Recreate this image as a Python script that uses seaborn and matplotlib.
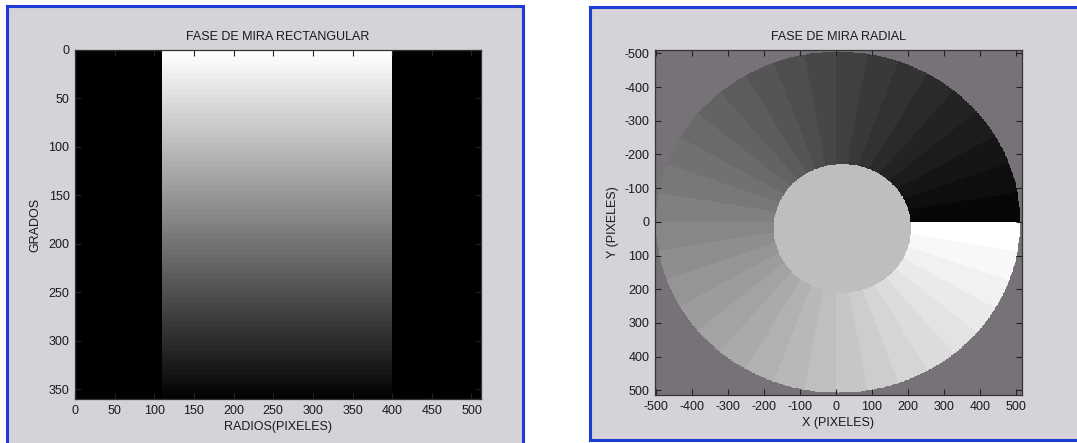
import numpy as np
import pandas as pd
import matplotlib
matplotlib.use("Agg")
import matplotlib.pyplot as plt
import seaborn as sns
from matplotlib.colors import ListedColormap
from matplotlib.patches import Rectangle

# ---------------- data: rectangular phase map ----------------
radios_lim = [0, 512]            # x extent (pixels)
grados_lim = [0, 360]            # y extent (degrees)
franja_radios = [110, 400]       # radii where the phase ramp is shown
paso_fase_rect = 5               # degrees per gray band
radios_ticks = [0, 50, 100, 150, 200, 250, 300, 350, 400, 450, 500]
grados_ticks = [0, 50, 100, 150, 200, 250, 300, 350]

# ---------------- data: radial phase map ----------------
x_lim = [-503, 518]
y_lim = [-510, 515]
centro_ext = [6, 1]
radio_ext = 506
centro_int = [18, 19]
radio_int = 191
paso_fase_rad = 10               # degrees per sector
xy_ticks = [-500, -400, -300, -200, -100, 0, 100, 200, 300, 400, 500]
color_fondo = "#767278"
color_centro = "#bebebe"
paso_celda = 2

W, H = 1077, 443
FONT = ["Liberation Sans Narrow", "Liberation Sans", "DejaVu Sans"]
plt.rcParams["font.family"] = FONT
plt.rcParams["font.size"] = 9
TXT = "#1a1a1a"

fig = plt.figure(figsize=(W / 100, H / 100), dpi=100, facecolor="white")

def px_rect(x0, y0, x1, y1):
    return (x0 / W, 1 - y1 / H, (x1 - x0) / W, (y1 - y0) / H)

# window frames
for (x0, y0, x1, y1) in [(7, 6, 523, 452), (590, 7, 1090, 440)]:
    l, b, w, h = px_rect(x0, y0, x1, y1)
    fig.add_artist(Rectangle((l, b), w, h, transform=fig.transFigure,
                             facecolor="#d5d2d8", edgecolor="#1c3cd6",
                             lw=2.2, zorder=0))

def style_axes(ax):
    for s in ax.spines.values():
        s.set_visible(True)
        s.set_color("#333333")
        s.set_linewidth(0.9)
    ax.tick_params(direction="in", top=True, right=True, length=4,
                   width=0.8, color="#222222", labelcolor=TXT,
                   labelsize=9, pad=4)

# ---------------- left: rectangular ----------------
ax1 = fig.add_axes(px_rect(75, 50, 481, 399))
filas = np.arange(grados_lim[0], grados_lim[1])
cols = np.arange(radios_lim[0], radios_lim[1])
nb = 360 / paso_fase_rect
banda = np.floor((filas + 0.5) / paso_fase_rect)
nivel = 1 - banda / nb
dentro = (cols + 0.5 >= franja_radios[0]) & (cols + 0.5 < franja_radios[1])
img_rect = np.where(dentro[None, :], nivel[:, None], 0.0)
sns.heatmap(pd.DataFrame(img_rect), ax=ax1, cmap="gray", vmin=0, vmax=1,
            cbar=False, xticklabels=False, yticklabels=False)
ax1.set_xlim(radios_lim)
ax1.set_ylim(grados_lim[1], grados_lim[0])
ax1.set_xticks(radios_ticks)
ax1.set_xticklabels([str(v) for v in radios_ticks], rotation=0)
ax1.set_yticks(grados_ticks)
ax1.set_yticklabels([str(v) for v in grados_ticks], rotation=0)
style_axes(ax1)
ax1.set_title("FASE DE MIRA RECTANGULAR", fontsize=9, color=TXT, pad=7)
ax1.set_xlabel("RADIOS(PIXELES)", fontsize=9, color=TXT, labelpad=3)
ax1.set_ylabel("GRADOS", fontsize=9, color=TXT, labelpad=5)

# ---------------- right: radial ----------------
ax2 = fig.add_axes(px_rect(655, 50, 1022, 395))
nx = int(round((x_lim[1] - x_lim[0]) / paso_celda))
ny = int(round((y_lim[1] - y_lim[0]) / paso_celda))
xs = x_lim[0] + (np.arange(nx) + 0.5) * paso_celda
ys = y_lim[0] + (np.arange(ny) + 0.5) * paso_celda
X, Y = np.meshgrid(xs, ys)
nsect = int(360 / paso_fase_rad)
fase = np.degrees(np.arctan2(Y, X)) % 360
codigo = np.floor(fase / paso_fase_rad)
r_ext = np.hypot(X - centro_ext[0], Y - centro_ext[1])
r_int = np.hypot(X - centro_int[0], Y - centro_int[1])
codigo = np.where(r_ext > radio_ext, nsect, codigo)
codigo = np.where(r_int <= radio_int, nsect + 1, codigo)
grises = [(1 - k / nsect,) * 3 for k in range(nsect)]
cmap_rad = ListedColormap(grises + [color_fondo, color_centro])
sns.heatmap(pd.DataFrame(codigo), ax=ax2, cmap=cmap_rad, vmin=-0.5,
            vmax=nsect + 1.5, cbar=False, xticklabels=False,
            yticklabels=False)
ax2.set_xlim(0, nx)
ax2.set_ylim(ny, 0)
ax2.set_xticks([(v - x_lim[0]) / paso_celda for v in xy_ticks])
ax2.set_xticklabels([str(v) for v in xy_ticks], rotation=0)
ax2.set_yticks([(v - y_lim[0]) / paso_celda for v in xy_ticks])
ax2.set_yticklabels([str(v) for v in xy_ticks], rotation=0)
style_axes(ax2)
ax2.set_title("FASE DE MIRA RADIAL", fontsize=9, color=TXT, pad=7)
ax2.set_xlabel("X (PIXELES)", fontsize=9, color=TXT, labelpad=3)
ax2.set_ylabel("Y (PIXELES)", fontsize=9, color=TXT, labelpad=4)

fig.savefig("out.png", dpi=100, facecolor="white")
